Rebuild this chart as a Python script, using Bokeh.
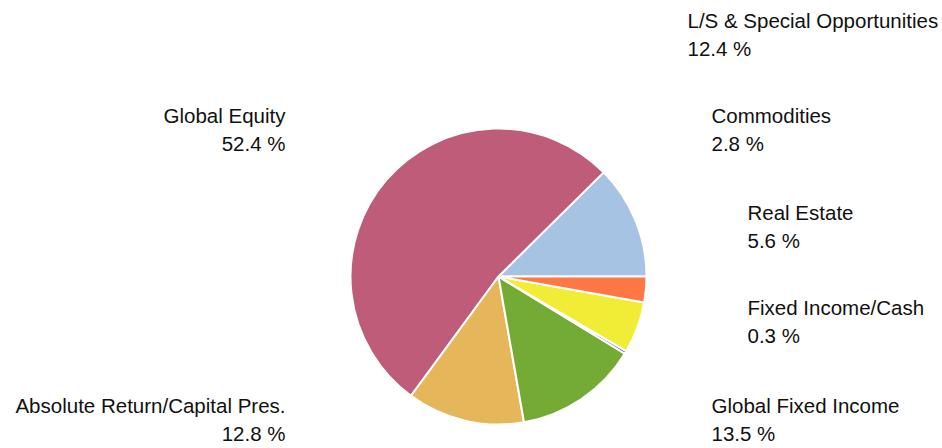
import math
from bokeh.plotting import figure
from bokeh.models import Range1d, ColumnDataSource
from bokeh.core.properties import value
from bokeh.embed import file_html
from bokeh.resources import INLINE

# ---- data ----
categories = ["L/S & Special Opportunities", "Global Equity", "Absolute Return/Capital Pres.",
              "Global Fixed Income", "Fixed Income/Cash", "Real Estate", "Commodities"]
shares = [12.4, 52.4, 12.8, 13.5, 0.3, 5.6, 2.8]
pct_labels = ["12.4 %", "52.4 %", "12.8 %", "13.5 %", "0.3 %", "5.6 %", "2.8 %"]

# ---- styles / layout ----
colors = ["#A6C3E4", "#BE5C7A", "#E5B65A", "#74AB35", "#3A4FA0", "#F1ED37", "#FF7744"]
W, H = 942, 448
cx_page, cy_page, radius = 498, 276, 148
# label anchors in page pixels: (x, baseline y, align)
label_pos = [(687, 20, "left"), (285, 115, "right"), (285, 405, "right"),
             (711, 405, "left"), (747, 307, "left"), (747, 212, "left"), (711, 115, "left")]
line_gap = 28


def px(x):
    return x


def py(y):
    return H - y


total = sum(shares)
starts, ends = [], []
acc = 0.0
for s in shares:
    starts.append(2 * math.pi * acc / total)
    acc += s
    ends.append(2 * math.pi * acc / total)

p = figure(width=W, height=H, x_range=Range1d(0, W), y_range=Range1d(0, H),
           output_backend="svg", toolbar_location=None, min_border=0)
p.axis.visible = False
p.grid.visible = False
p.outline_line_color = None
p.background_fill_color = "white"
p.border_fill_color = "white"

src = ColumnDataSource(dict(start=starts, end=ends, color=colors, cat=categories))
p.wedge(x=px(cx_page), y=py(cy_page), radius=radius, start_angle="start", end_angle="end",
        direction="anticlock", fill_color="color", line_color="white", line_width=2, source=src)

for name, pct, (lx, ly, al) in zip(categories, pct_labels, label_pos):
    p.text(x=[px(lx)], y=[py(ly)], text=[name], text_align=al, text_baseline="alphabetic",
           text_font=value("Liberation Sans"), text_font_size="20.5px", text_color="#111111")
    p.text(x=[px(lx)], y=[py(ly + line_gap)], text=[pct], text_align=al, text_baseline="alphabetic",
           text_font=value("Liberation Sans"), text_font_size="20.5px", text_color="#111111")

open("out.html", "w").write(file_html(p, INLINE))
